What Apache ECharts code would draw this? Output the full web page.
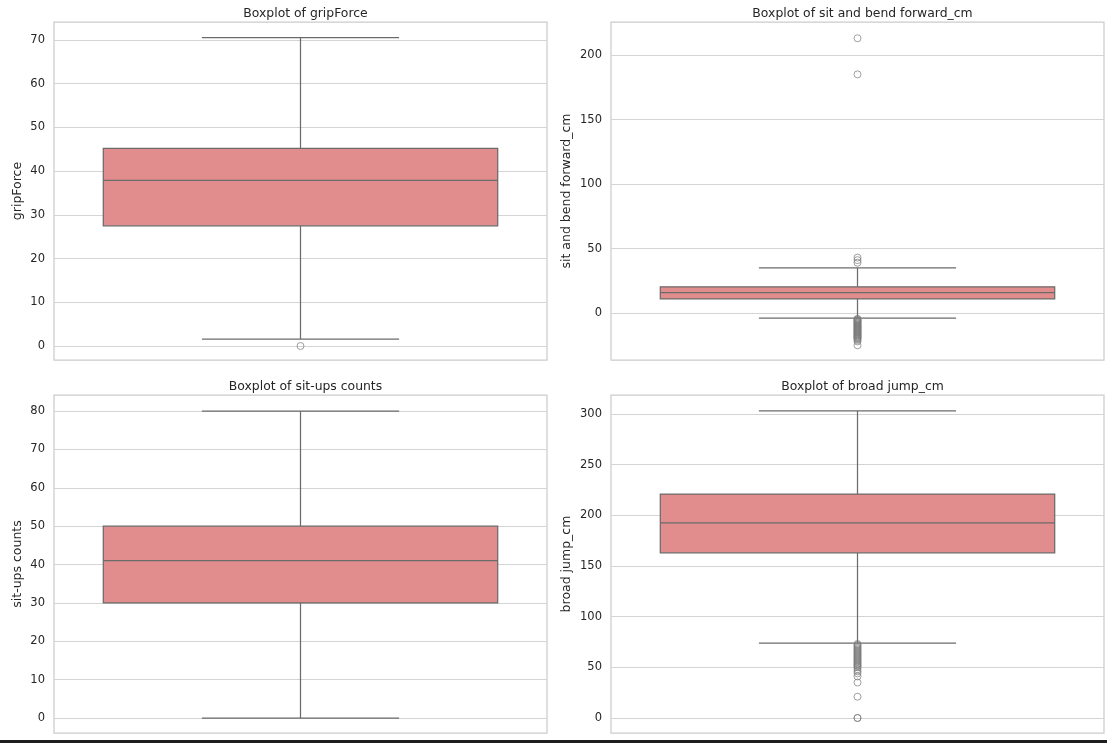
<!DOCTYPE html>
<html>
<head>
<meta charset="utf-8">
<script src="https://cdn.jsdelivr.net/npm/echarts@6/dist/echarts.min.js"></script>
<style>
  html, body { margin: 0; padding: 0; background: #fff; }
  #main { width: 1107px; height: 743px; }
</style>
</head>
<body>
<div id="main"></div>
<script>
// box stats: [lower whisker, Q1, median, Q3, upper whisker]
const gripStats = [1.6, 27.5, 37.9, 45.2, 70.5];
const gripOutliers = [0];

const sitBendStats = [-3.9, 10.9, 15.8, 20.3, 35];
const sitBendOutliers = [213, 185, 43, 41, 39,
  -4.5, -5, -5.5, -6, -6.5, -7, -7.5, -8, -8.5, -9, -9.5, -10, -10.5, -11, -11.5,
  -12, -12.5, -13, -13.5, -14, -14.5, -15, -15.5, -16, -16.5, -17, -17.5, -18,
  -18.5, -19, -19.5, -20, -21, -22, -25];

const situpStats = [0, 30, 41, 50, 80];
const situpOutliers = [];

const broadStats = [74, 163, 192.5, 221, 303];
const broadOutliers = [73, 72, 71, 70, 69, 68, 67, 66, 65, 64, 63, 62, 61, 60, 59,
  58, 57, 56, 55, 54, 53, 52, 51, 50, 48, 46, 44, 41, 35, 21, 0, 0];

const titles = ['Boxplot of gripForce', 'Boxplot of sit and bend forward_cm',
  'Boxplot of sit-ups counts', 'Boxplot of broad jump_cm'];
const yNames = ['gripForce', 'sit and bend forward_cm', 'sit-ups counts', 'broad jump_cm'];

const gripTicks = [0, 10, 20, 30, 40, 50, 60, 70];
const sitBendTicks = [0, 50, 100, 150, 200];
const situpTicks = [0, 10, 20, 30, 40, 50, 60, 70, 80];
const broadTicks = [0, 50, 100, 150, 200, 250, 300];

const panels = [
  { stats: gripStats, outliers: gripOutliers, ticks: gripTicks, min: -3.2, max: 74.1 },
  { stats: sitBendStats, outliers: sitBendOutliers, ticks: sitBendTicks, min: -36.4, max: 225.6 },
  { stats: situpStats, outliers: situpOutliers, ticks: situpTicks, min: -3.9, max: 84.2 },
  { stats: broadStats, outliers: broadOutliers, ticks: broadTicks, min: -14.8, max: 318.7 }
];

const grids = [
  { left: 54, top: 22, width: 493, height: 338 },
  { left: 611, top: 22, width: 493, height: 338 },
  { left: 54, top: 395, width: 493, height: 338 },
  { left: 611, top: 395, width: 493, height: 338 }
];
const nameGaps = [30, 38, 30, 38];

const boxFill = '#e28d8d';
const lineColor = '#6b6b6b';
const textColor = '#262626';
const gridColor = '#d4d4d4';

function renderBox(params, api) {
  const x = api.value(0);
  const lo = api.coord([x, api.value(1)]);
  const q1 = api.coord([x, api.value(2)]);
  const md = api.coord([x, api.value(3)]);
  const q3 = api.coord([x, api.value(4)]);
  const hi = api.coord([x, api.value(5)]);
  const band = api.size([1, 0])[0];
  const bw = band * 0.8;
  const cw = band * 0.4;
  const cx = md[0];
  const ls = { stroke: lineColor, lineWidth: 1.25 };
  return {
    type: 'group',
    children: [
      { type: 'line', shape: { x1: cx, y1: q3[1], x2: cx, y2: hi[1] }, style: ls },
      { type: 'line', shape: { x1: cx, y1: q1[1], x2: cx, y2: lo[1] }, style: ls },
      { type: 'line', shape: { x1: cx - cw / 2, y1: hi[1], x2: cx + cw / 2, y2: hi[1] }, style: ls },
      { type: 'line', shape: { x1: cx - cw / 2, y1: lo[1], x2: cx + cw / 2, y2: lo[1] }, style: ls },
      {
        type: 'rect',
        shape: { x: cx - bw / 2, y: q3[1], width: bw, height: q1[1] - q3[1] },
        style: { fill: boxFill, stroke: lineColor, lineWidth: 1.25 }
      },
      { type: 'line', shape: { x1: cx - bw / 2, y1: md[1], x2: cx + bw / 2, y2: md[1] }, style: ls }
    ]
  };
}

const option = {
  animation: false,
  backgroundColor: '#ffffff',
  title: titles.map(function (t, i) {
    return {
      text: t,
      left: grids[i].left + grids[i].width / 2,
      top: grids[i].top - 19,
      textAlign: 'center',
      textStyle: { fontFamily: 'DejaVu Sans', fontSize: 12.4, fontWeight: 'normal', color: textColor }
    };
  }),
  grid: grids.map(function (g) {
    return Object.assign({ show: true, borderColor: '#cccccc', borderWidth: 1.25, backgroundColor: '#fff' }, g);
  }),
  xAxis: panels.map(function (p, i) {
    return {
      type: 'category',
      gridIndex: i,
      data: [''],
      axisLine: { show: false },
      axisTick: { show: false },
      axisLabel: { show: false },
      splitLine: { show: false }
    };
  }),
  yAxis: panels.map(function (p, i) {
    return {
      type: 'value',
      gridIndex: i,
      min: p.min,
      max: p.max,
      name: yNames[i],
      nameLocation: 'middle',
      nameGap: nameGaps[i],
      nameTextStyle: { fontFamily: 'DejaVu Sans', fontSize: 12.5, color: textColor },
      axisLine: { show: false },
      axisTick: { show: false, customValues: p.ticks },
      axisLabel: {
        customValues: p.ticks,
        fontFamily: 'DejaVu Sans', fontSize: 11.5, color: textColor, margin: 9
      },
      splitLine: { show: true, lineStyle: { color: gridColor, width: 1 } }
    };
  }),
  series: [].concat(
    panels.map(function (p, i) {
      return {
        type: 'custom',
        xAxisIndex: i,
        yAxisIndex: i,
        renderItem: renderBox,
        encode: { x: 0, y: [1, 2, 3, 4, 5] },
        data: [[0].concat(p.stats)],
        z: 2
      };
    }),
    panels.map(function (p, i) {
      return {
        type: 'scatter',
        xAxisIndex: i,
        yAxisIndex: i,
        symbol: 'circle',
        symbolSize: 7,
        itemStyle: { color: 'rgba(255,255,255,0)', borderColor: '#7a7a7a', borderWidth: 0.9 },
        data: p.outliers.map(function (v) { return [0, v]; }),
        z: 3
      };
    })
  ),
  graphic: [
    { type: 'rect', left: 0, top: 740, shape: { width: 1107, height: 3 }, style: { fill: '#1e1e1e' } }
  ]
};

const chart = echarts.init(document.getElementById('main'));
chart.setOption(option);
</script>
</body>
</html>
